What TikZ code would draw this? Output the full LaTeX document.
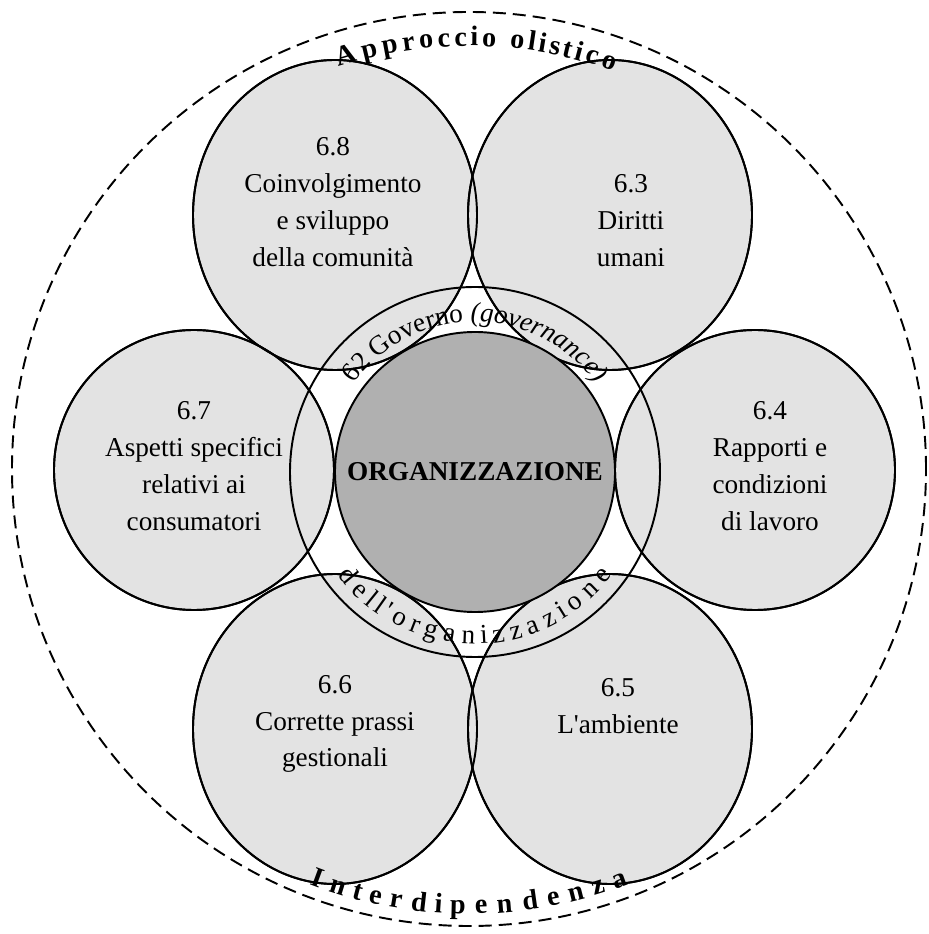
\documentclass[tikz,border=0pt]{standalone}
\usepackage{fontspec}
\setmainfont{Liberation Serif}[Ligatures=TeXOff]
\usetikzlibrary{shapes.geometric,decorations.text}

\definecolor{areafill}{gray}{0.89}
\definecolor{corefill}{gray}{0.69}
\newcommand\govfont{\fontsize{15.5}{18}\selectfont}
\newcommand\arcfont{\fontsize{16}{19}\selectfont\bfseries}

\begin{document}
\begin{tikzpicture}[x=0.2mm, y=0.2mm, line width=1.1pt,
	every node/.style={font=\fontsize{15.5}{21}\selectfont},
	lbl/.style={align=center, inner sep=0pt},
	area/.style={circle, draw, fill=areafill, minimum size=56mm, inner sep=0pt},
	tall/.style={ellipse, draw, fill=areafill, minimum width=56.8mm, minimum height=62mm, inner sep=0pt},
	core/.style={circle, draw, fill=corefill, minimum size=56mm, inner sep=0pt, font=\fontsize{15.5}{21}\selectfont\bfseries},
	govring/.style={circle, draw, minimum size=74mm, inner sep=0pt},
	holo/.style={circle, draw, dash pattern=on 7.4pt off 4pt, minimum size=182.8mm, inner sep=0pt}]
	\useasboundingbox (-475,-462) rectangle (453,472);
	\node[holo] (H) at (-6,3) {};
	\node[tall] (C68) at (-140,257) {};
	\node[tall] (C63) at (135,257) {};
	\node[area] (C67) at (-281,2) {};
	\node[area] (C64) at (280,2) {};
	\node[tall] (C66) at (-140,-257) {};
	\node[tall] (C65) at (135,-257) {};
	\foreach \c/\rx/\ry in {C68/142/155, C63/142/155, C66/142/155, C65/142/155, C67/140/140, C64/140/140}
		\draw (\c) ellipse[x radius=\rx, y radius=\ry];
	\node[govring] (G) at (0,0) {};
	\node[core] (O) at (0,0) {ORGANIZZAZIONE};
	\node[lbl] (T68) at (-142,270) {6.8\\Coinvolgimento\\e sviluppo\\della comunità};
	\node[lbl] (T63) at (156,251) {6.3\\Diritti\\umani};
	\node[lbl] (T67) at (-281,6) {6.7\\Aspetti specifici\\relativi ai\\consumatori};
	\node[lbl] (T64) at (295,6) {6.4\\Rapporti e\\condizioni\\di lavoro};
	\node[lbl] (T66) at (-140,-252) {6.6\\Corrette prassi\\gestionali};
	\node[lbl] (T65) at (143,-234) {6.5\\L'ambiente};
	\path[decorate, decoration={text along path, text align=center, text={|\govfont|62 Governo |\govfont\itshape|(governance)}}]
		(150:150) arc[start angle=150, end angle=30, radius=150];
	\path[decorate, decoration={text effects along path, text={dell'organizzazione}, text effects/.cd, text along path, fit text to path, characters={font=\govfont, inner sep=0pt, anchor=base}}]
		(217:172) arc[start angle=217, end angle=323, radius=172];
	\path[decorate, decoration={text effects along path, text={Approccio olistico}, text effects/.cd, text along path, fit text to path, characters={font=\arcfont, inner sep=0pt, anchor=base}}]
		(H.center) ++(108:423) arc[start angle=108, end angle=70, radius=423];
	\path[decorate, decoration={text effects along path, text={Interdipendenza}, text effects/.cd, text along path, fit text to path, characters={font=\arcfont, inner sep=0pt, anchor=base}}]
		(H.center) ++(249:445) arc[start angle=249, end angle=291, radius=445];
\end{tikzpicture}
\end{document}
